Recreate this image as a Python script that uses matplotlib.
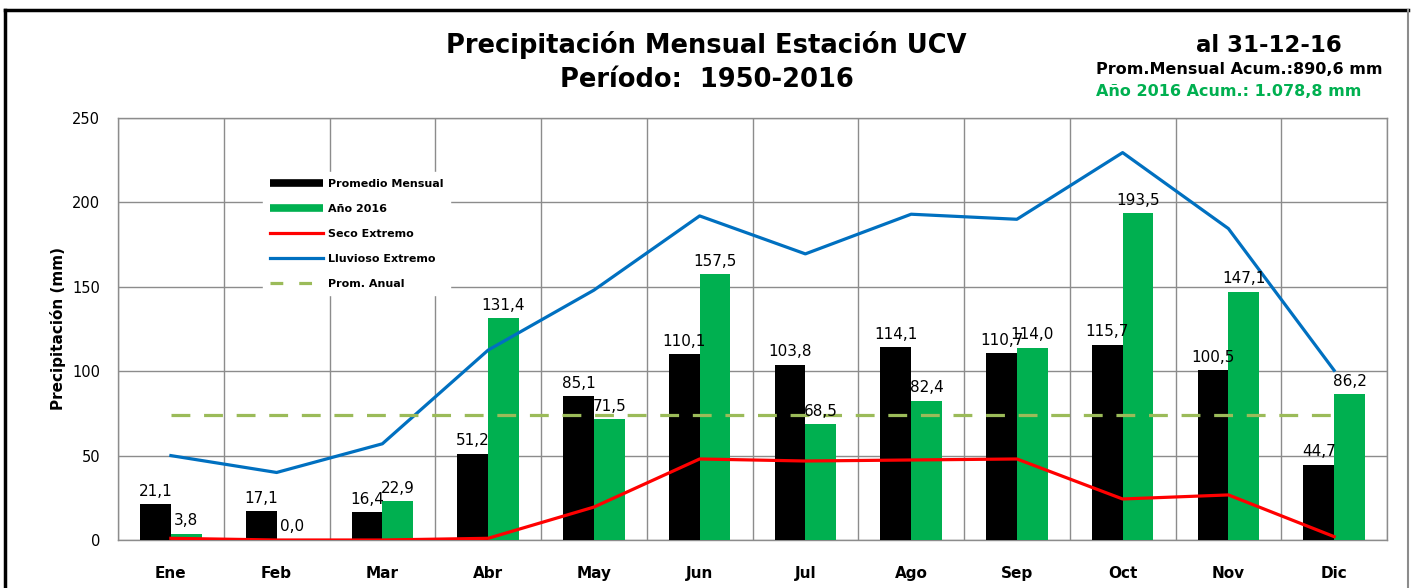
import matplotlib
matplotlib.use("Agg")
import matplotlib.pyplot as plt
from matplotlib.lines import Line2D
import numpy as np

months = ["Ene", "Feb", "Mar", "Abr", "May", "Jun", "Jul", "Ago", "Sep", "Oct", "Nov", "Dic"]
prom_mensual = [21.1, 17.1, 16.4, 51.2, 85.1, 110.1, 103.8, 114.1, 110.7, 115.7, 100.5, 44.7]
anio_2016 = [3.8, 0.0, 22.9, 131.4, 71.5, 157.5, 68.5, 82.4, 114.0, 193.5, 147.1, 86.2]
seco_extremo = [1, 0, 0, 1, 19.5, 48, 46.8, 47.4, 48, 24.3, 26.7, 2]
lluvioso_extremo = [50, 40, 57, 112.5, 148, 192, 169.5, 193, 190, 229.5, 184.5, 100.5]
prom_anual = [74.2] * 12
yticks = [0, 50, 100, 150, 200, 250]

FONT = "DejaVu Sans"

def fmt(v):
    return f"{v:.1f}".replace(".", ",")

fig = plt.figure(figsize=(14.13, 5.88), dpi=100)
ax = fig.add_axes([118/1413, 1-540/588, 1269/1413, 422/588])

x = np.arange(len(months))
bw = 0.29
ax.bar(x - bw/2, prom_mensual, bw, color="black", zorder=3)
ax.bar(x + bw/2, anio_2016, bw, color="#00B050", zorder=3)

ax.plot(x, seco_extremo, color="#FF0000", lw=2.3, zorder=4)
ax.plot(x, lluvioso_extremo, color="#0070C0", lw=2.3, zorder=4)
ax.plot(x, prom_anual, color="#9BBB59", lw=2.3, dashes=(5.9, 4.3), zorder=4)

for xi, v in zip(x, prom_mensual):
    ax.annotate(fmt(v), (xi - bw/2, v), xytext=(0, 4), textcoords="offset points",
                ha="center", va="bottom", fontsize=11, family="DejaVu Sans", zorder=6)
for xi, v in zip(x, anio_2016):
    ax.annotate(fmt(v), (xi + bw/2, v), xytext=(0, 4), textcoords="offset points",
                ha="center", va="bottom", fontsize=11, family="DejaVu Sans", zorder=6)

ax.set_xlim(-0.5, 11.5)
ax.set_ylim(0, 250)
ax.set_yticks(yticks)
ax.set_yticklabels([str(t) for t in yticks], fontsize=10.5, family="DejaVu Sans")
ax.set_xticks(x)
ax.set_xticklabels(months, fontsize=11, fontweight="bold", family=FONT)
ax.tick_params(axis="both", length=0)
ax.tick_params(axis="x", pad=19)
ax.tick_params(axis="y", pad=13)

ax.set_xticks(np.arange(-0.5, 12, 1), minor=True)
ax.grid(False)
ax.yaxis.grid(True, color="#8c8c8c", lw=1, zorder=0)
ax.xaxis.grid(True, which="minor", color="#8c8c8c", lw=1, zorder=0)
ax.tick_params(axis="x", which="minor", length=0)
for s in ax.spines.values():
    s.set_color("#8c8c8c")
    s.set_linewidth(1)

ax.set_ylabel("Precipitación (mm)", fontsize=11, fontweight="bold", family=FONT, labelpad=4)

handles = [
    Line2D([], [], color="black", lw=5.5, solid_capstyle="butt"),
    Line2D([], [], color="#00B050", lw=5.5, solid_capstyle="butt"),
    Line2D([], [], color="#FF0000", lw=2.3),
    Line2D([], [], color="#0070C0", lw=2.3),
    Line2D([], [], color="#9BBB59", lw=2.3, dashes=(4, 5)),
]
labels = ["Promedio Mensual", "Año 2016", "Seco Extremo", "Lluvioso Extremo", "Prom. Anual"]
leg = ax.legend(handles, labels, loc="upper left", bbox_to_anchor=(0.11, 0.885),
                frameon=True, fancybox=False, edgecolor="white", facecolor="white", framealpha=1,
                prop={"size": 8, "weight": "bold", "family": FONT},
                handlelength=4.8, labelspacing=1.35, handletextpad=0.4, borderpad=0.6)
leg.set_zorder(10)

fig.text(0.5, 1-45/588, "Precipitación Mensual Estación UCV", ha="center", va="center",
         fontsize=18.5, fontweight="bold", family=FONT)
fig.text(0.5, 1-80/588, "Período:  1950-2016", ha="center", va="center",
         fontsize=18.5, fontweight="bold", family=FONT)
fig.text(1342/1413, 1-46/588, "al 31-12-16", ha="right", va="center",
         fontsize=16.5, fontweight="bold", family=FONT)
fig.text(1096/1413, 1-70/588, "Prom.Mensual Acum.:890,6 mm", ha="left", va="center",
         fontsize=11.5, fontweight="bold", family=FONT)
fig.text(1096/1413, 1-92/588, "Año 2016 Acum.: 1.078,8 mm", ha="left", va="center",
         fontsize=11.5, fontweight="bold", family=FONT, color="#00B050")

# outer frame
fig.add_artist(Line2D([5/1413, 5/1413], [0, 1-10/588], color="black", lw=2.5, transform=fig.transFigure))
fig.add_artist(Line2D([5/1413, 1408/1413], [1-10/588, 1-10/588], color="black", lw=2.5, transform=fig.transFigure))
fig.add_artist(Line2D([1408/1413, 1408/1413], [0, 1-10/588], color="#8c8c8c", lw=1.5, transform=fig.transFigure))

fig.savefig("out.png", dpi=100)
